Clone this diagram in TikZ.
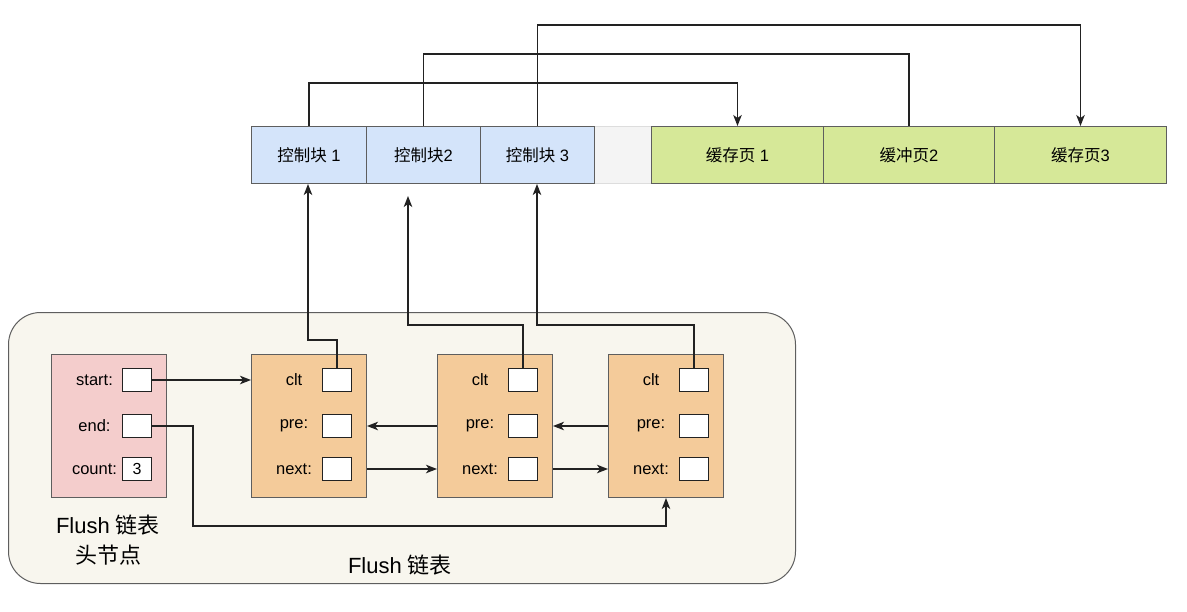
\documentclass[tikz,border=0pt]{standalone}
\usepackage{fontspec}
\setmainfont{Liberation Sans}
\newfontfamily\cjk{Noto Sans CJK SC}
\usetikzlibrary{arrows.meta,calc}
\definecolor{cblue}{HTML}{D4E4FA}
\definecolor{cgreen}{HTML}{D6E898}
\definecolor{cgrey}{HTML}{F4F4F4}
\definecolor{cgreyline}{HTML}{DDDDDD}
\definecolor{cpink}{HTML}{F4CDCC}
\definecolor{corange}{HTML}{F4CB9A}
\definecolor{cbg}{HTML}{F8F6EE}
\definecolor{cstroke}{HTML}{5E5E5E}
\definecolor{cline}{HTML}{222222}
\tikzset{
  cell/.style={draw=cstroke, line width=1pt, anchor=north west, minimum height=57pt, inner sep=0pt, font=\fontsize{16.5}{18}\selectfont},
  rec/.style={draw=cstroke, line width=1pt, anchor=north west, minimum width=115pt, minimum height=143pt, inner sep=0pt},
  fbox/.style={draw=cline, fill=white, line width=1pt, minimum width=29pt, minimum height=23pt, inner sep=0pt, font=\fontsize{16}{18}\selectfont},
  lbl/.style={inner sep=0pt, font=\fontsize{16.5}{18}\selectfont},
  big/.style={inner sep=0pt, align=center, font=\fontsize{22}{30}\selectfont},
  conn/.style={draw=cline, line width=1.3pt},
  arr/.style={conn, -{Stealth[length=11pt,width=8.5pt,inset=3pt]}},
}
\begin{document}
\begin{tikzpicture}[x=1pt,y=-1pt]
\useasboundingbox (0,0) rectangle (1187,611);
% top row
\node[cell, fill=cgrey, draw=cgreyline, minimum width=57pt] (gap) at (594,126) {};
\node[cell, fill=cblue, minimum width=115pt] (cb1) at (251,126) {{\cjk 控制块} 1};
\node[cell, fill=cblue, minimum width=114pt] (cb2) at (366,126) {{\cjk 控制块}2};
\node[cell, fill=cblue, minimum width=114pt] (cb3) at (480,126) {{\cjk 控制块} 3};
\node[cell, fill=cgreen, minimum width=172pt] (pg1) at (651,126) {{\cjk 缓存页} 1};
\node[cell, fill=cgreen, minimum width=171pt] (pg2) at (823,126) {{\cjk 缓冲页}2};
\node[cell, fill=cgreen, minimum width=172pt] (pg3) at (994,126) {{\cjk 缓存页}3};
% top connectors
\coordinate (t1) at (308,83);
\coordinate (t2) at (423,54);
\coordinate (t3) at (537,25);
\draw[arr] (cb1.north) -- (cb1.north |- t1) -| (pg1.north);
\draw[conn] (cb2.north) -- (cb2.north |- t2) -| (pg2.north);
\draw[arr] (cb3.north) -- (cb3.north |- t3) -| (pg3.north);
% container
\node[draw=cstroke, fill=cbg, line width=1pt, rounded corners=32pt, anchor=north west, minimum width=787pt, minimum height=271pt] (ct) at (8,312) {};
\node[big] (ctl) at (400,565) {Flush {\cjk 链表}};
% head node
\node[rec, fill=cpink] (hd) at (51,354) {};
\node[lbl] (hsl) at (94.5,380) {start:};
\node[lbl] (hel) at (94.5,426) {end:};
\node[lbl] (hcl) at (94.5,469) {count:};
\node[fbox] (hs) at (137,380) {};
\node[fbox] (he) at (137,426) {};
\node[fbox] (hc) at (137,469) {3};
\node[big] (hdl) at (108,540) {Flush {\cjk 链表}\\{\cjk 头节点}};
% list nodes
\foreach \i/\x in {1/251,2/437,3/608}{
  \node[rec, fill=corange] (n\i) at (\x,354) {};
  \node[lbl] (cl\i) at ($(n\i.north west)+(43,26)$) {clt};
  \node[lbl] (pl\i) at ($(n\i.north west)+(43,72)$) {pre:};
  \node[lbl] (xl\i) at ($(n\i.north west)+(43,115)$) {next:};
  \node[fbox] (c\i) at ($(n\i.north west)+(86,26)$) {};
  \node[fbox] (p\i) at ($(n\i.north west)+(86,72)$) {};
  \node[fbox] (x\i) at ($(n\i.north west)+(86,115)$) {};
}
% list connectors
\draw[arr] (hs.east) -- (n1.west |- hs);
\coordinate (e1) at (193,526);
\draw[arr] (he.east) -| (e1) -| (n3.south);
\draw[arr] (n2.west |- p2) -- (n1.east |- p1);
\draw[arr] (n3.west |- p3) -- (n2.east |- p2);
\draw[arr] (n1.east |- x1) -- (n2.west |- x1);
\draw[arr] (n2.east |- x2) -- (n3.west |- x2);
% clt connectors
\coordinate (k1) at (308,340);
\coordinate (k2) at (408,325);
\coordinate (k2t) at (408,196);
\coordinate (k3) at (537,325);
\draw[arr] (c1.north) |- (k1) -- (k1 |- cb1.south);
\draw[arr] (c2.north) |- (k2) -- (k2t);
\draw[arr] (c3.north) |- (k3) -- (k3 |- cb3.south);
\end{tikzpicture}
\end{document}
